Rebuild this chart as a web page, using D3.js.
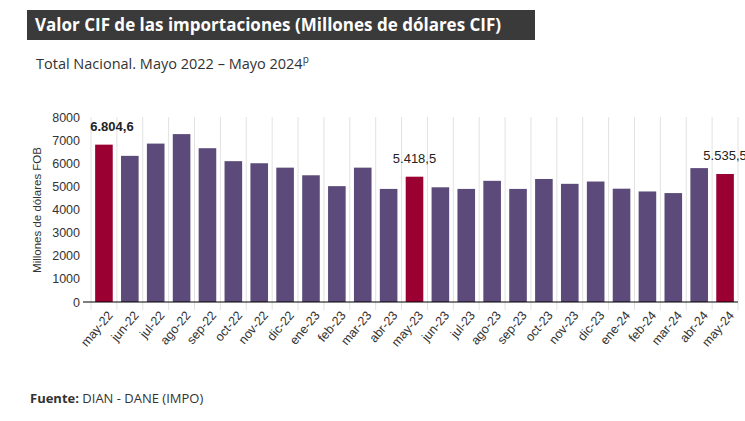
<!DOCTYPE html>
<html><head><meta charset="utf-8">
<script src="https://cdn.jsdelivr.net/npm/d3@7"></script>
<style>body{margin:0;background:#fff;overflow:hidden}svg{display:block}</style>
</head><body><svg id="c" width="745" height="421"></svg>
<script>
const categories=["may-22","jun-22","jul-22","ago-22","sep-22","oct-22","nov-22","dic-22","ene-23","feb-23","mar-23","abr-23","may-23","jun-23","jul-23","ago-23","sep-23","oct-23","nov-23","dic-23","ene-24","feb-24","mar-24","abr-24","may-24"];
const values=[6804.6,6320,6850,7260,6650,6090,6000,5810,5480,5010,5810,4890,5418.5,4960,4890,5240,4890,5320,5110,5210,4900,4780,4710,5790,5535.5];
const highlighted=["may-22","may-23","may-24"];
const labels={"may-22":"6.804,6","may-23":"5.418,5","may-24":"5.535,5"};
const yTicks=[0,1000,2000,3000,4000,5000,6000,7000,8000];
const svg=d3.select("#c");
const F="'Open Sans',sans-serif";
const A="Arial,'Liberation Sans',sans-serif";
svg.append("rect").attr("x",27).attr("y",10).attr("width",508).attr("height",30).attr("fill","#3a3a3a");
svg.append("text").attr("x",35).attr("y",31).attr("fill","#fff").attr("font-family",F).attr("font-weight","bold").attr("font-size",17).text("Valor CIF de las importaciones (Millones de dólares CIF)");
const st=svg.append("text").attr("x",36).attr("y",69).attr("fill","#333").attr("font-family",F).attr("font-size",14.5).text("Total Nacional. Mayo 2022 – Mayo 2024");
st.append("tspan").attr("dy",-6).attr("font-size",10).text("p");
svg.append("text").attr("x",30).attr("y",403).attr("fill","#333").attr("font-family",F).attr("font-size",13).html("<tspan font-weight='bold'>Fuente:</tspan> DIAN - DANE (IMPO)");
const x=d3.scaleBand().domain(categories).range([91,738]).paddingInner(0.32).paddingOuter(0.16);
const y=d3.scaleLinear().domain([0,8000]).range([302,117]);
const g=svg.append("g");
const bounds=d3.range(categories.length+1).map(i=>91+i*(647/categories.length));
g.selectAll("line.v").data(bounds).join("line").attr("x1",d=>d).attr("x2",d=>d).attr("y1",117).attr("y2",310).attr("stroke","#e2e2e2");
g.selectAll("rect.b").data(categories).join("rect").attr("x",d=>x(d)).attr("width",x.bandwidth())
 .attr("y",(d,i)=>y(values[i])).attr("height",(d,i)=>302-y(values[i]))
 .attr("fill",d=>highlighted.includes(d)?"#9b0032":"#5c4a7a");
g.append("line").attr("x1",83).attr("x2",738).attr("y1",302).attr("y2",302).attr("stroke","#000").attr("stroke-width",1.2);
const ya=svg.append("g").attr("transform","translate(83,0)").call(d3.axisLeft(y).tickValues(yTicks).tickFormat(d3.format("d")).tickSize(0).tickPadding(3));
ya.select(".domain").remove();
ya.selectAll("text").attr("font-family",A).attr("font-size",12.5).attr("fill","#333");
svg.append("text").attr("transform","translate(41,210) rotate(-90)").attr("text-anchor","middle").attr("font-family",A).attr("font-size",11.5).attr("fill","#333").text("Millones de dólares FOB");
const xa=svg.append("g").attr("transform","translate(0,306)").call(d3.axisBottom(x).tickSize(0).tickPadding(6));
xa.select(".domain").remove();
xa.selectAll("text").attr("font-family",A).attr("font-size",12.5).attr("fill","#333")
 .attr("text-anchor","end").attr("transform","rotate(-50)").attr("dx","-0.1em").attr("dy","0.6em");
g.selectAll("text.l").data(categories.filter(c=>labels[c])).join("text")
 .attr("x",d=>x(d)+x.bandwidth()/2+(d==="may-22"?8:0)).attr("y",d=>y(values[categories.indexOf(d)])-14)
 .attr("text-anchor","middle").attr("font-family",A).attr("font-size",13)
 .attr("font-weight",d=>d==="may-22"?"bold":"normal").attr("fill","#222").text(d=>labels[d]);
</script></body></html>
